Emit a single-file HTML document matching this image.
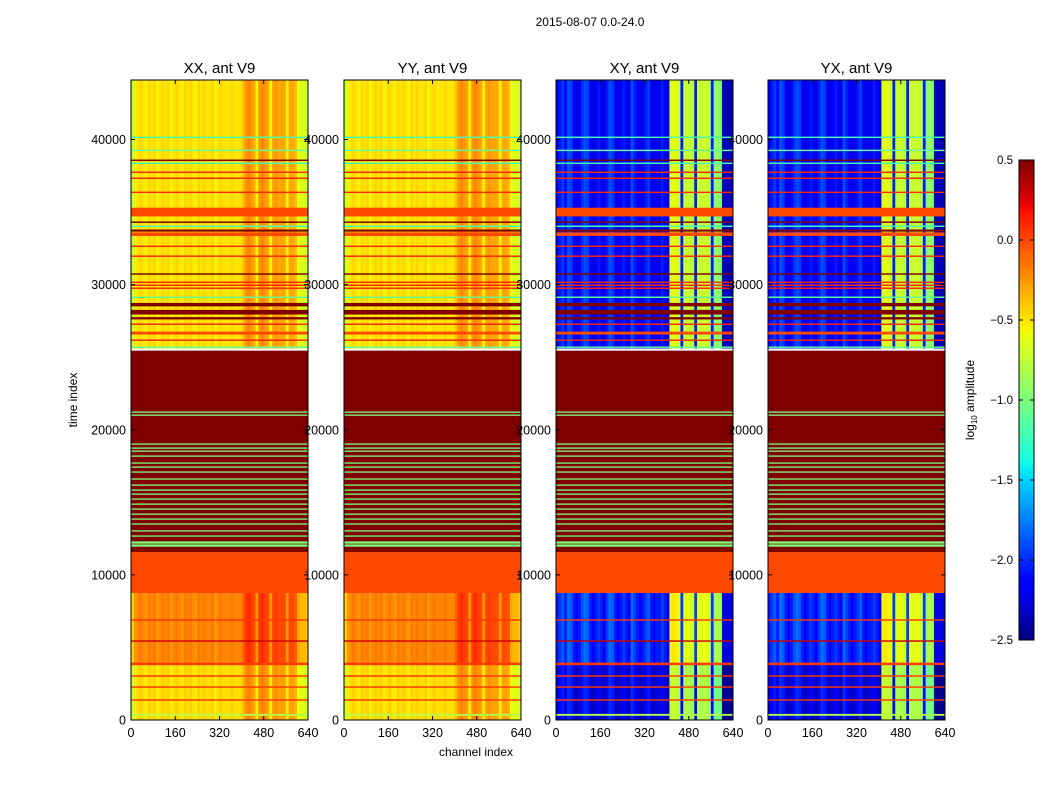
<!DOCTYPE html>
<html><head><meta charset="utf-8"><style>
body{margin:0;background:#fff;width:1050px;height:800px;overflow:hidden}
svg text{font-family:"Liberation Sans","DejaVu Sans",sans-serif}
</style></head><body>
<svg id="fig" width="1050" height="800" xmlns="http://www.w3.org/2000/svg">
<text x="590" y="26" font-size="12" text-anchor="middle">2015-08-07 0.0-24.0</text>
<text x="476" y="756" font-size="12" text-anchor="middle">channel index</text>
<text x="77" y="400" font-size="12" text-anchor="middle" transform="rotate(-90 77 400)">time index</text>
<g id="panels"></g>
<g id="cbar"></g>
</svg>
<script>
// ---- data ----
const panelTitles = ["XX, ant V9","YY, ant V9","XY, ant V9","YX, ant V9"];
const panelKinds = ["par","par","cross","cross"];
const xTicks = [0,160,320,480,640];
const yTicks = [0,10000,20000,30000,40000];
const cbTicks = [0.5,0.0,-0.5,-1.0,-1.5,-2.0,-2.5];
const cbLabels = ["0.5","0.0","\u22120.5","\u22121.0","\u22121.5","\u22122.0","\u22122.5"];
// channel profiles, 64 bins of 10 channels
const parProfile = [-0.75,-0.55,-0.5,-0.45,-0.5,-0.55,-0.45,-0.5,-0.45,-0.55,-0.5,-0.45,-0.5,-0.45,-0.55,-0.5,-0.45,-0.5,-0.55,-0.45,-0.5,-0.45,-0.5,-0.55,-0.45,-0.5,-0.45,-0.5,-0.5,-0.45,-0.55,-0.5,-0.45,-0.5,-0.5,-0.5,-0.45,-0.5,-0.5,-0.5,
  -0.4,-0.25,-0.2,-0.25,-0.3,-0.55,-0.25,-0.2,-0.25,-0.3,-0.55,-0.3,-0.25,-0.3,-0.3,-0.3,-0.55,-0.3,-0.3,-0.35,-0.6,-0.65,-0.65,-0.7];
const crossProfile = [-2.2,-2.1,-2.0,-2.2,-1.95,-2.0,-2.2,-2.3,-2.2,-2.05,-1.95,-2.0,-2.2,-2.3,-2.2,-2.1,-2.2,-2.3,-2.1,-1.95,-2.0,-2.2,-2.3,-2.2,-2.1,-2.2,-2.3,-1.95,-2.1,-2.2,-2.3,-2.2,-2.1,-2.0,-2.2,-2.3,-2.2,-2.2,-2.1,-2.2,
  -2.3,-0.7,-0.65,-0.7,-0.75,-2.1,-0.8,-0.75,-0.8,-0.85,-2.1,-0.75,-0.8,-0.75,-0.75,-0.85,-2.1,-1.0,-0.95,-1.05,-2.4,-2.4,-2.4,-2.4];
// time segments with data
const segStart = [25600, 3800, 0];
const segEnd   = [44100, 8750, 3800];
const segParOff = [0, 0.3, 0.02];
const segCrossOff = [0.05, 0.15, -0.05];
// flagged rows overlay: start, end, value
const flagStart = [8750,11570,
  11940,12150,12010,12220,12630,12980,13460,13800,14140,14490,14830,15180,15520,15800,16140,16560,17040,17380,17660,18140,18480,18690,18970,20960,21170,
  40100,39200,38310,38520,37690,37280,36310,34700,34250,33970,33650,33350,32590,31910,30680,30110,29910,29700,29080,28500,27940,27600,27220,26560,26120,25640,
  6840,5390,3780,2980,2220,1330,290];
const flagEnd   = [11570,25450,
  12030,12240,12100,12310,12720,13070,13550,13890,14230,14580,14920,15270,15610,15890,16230,16650,17130,17470,17750,18230,18570,18780,19060,21050,21260,
  40200,39300,38410,38620,37790,37380,36410,35300,34350,34070,33800,33600,32690,32010,30780,30210,30010,29800,29180,28740,28260,27760,27320,26760,26220,25740,
  6940,5490,3950,3080,2320,1430,420];
const flagVal   = [0.0,0.5,
  -1.0,-1.0,-1.0,-1.0,-1.0,-1.0,-1.0,-1.0,-1.0,-1.0,-1.0,-1.0,-1.0,-1.0,-1.0,-1.0,-1.0,-1.0,-1.0,-1.0,-1.0,-1.0,-1.0,-1.0,-1.0,
  -1.2,-1.1,-1.2,0.5,0.1,0.1,0.1,0.0,0.5,-1.2,0.5,0.0,0.1,0.1,0.5,0.1,0.1,0.1,-1.1,0.5,0.5,0.5,0.1,0.0,0.1,-1.1,
  0.05,0.3,0.05,0.05,0.05,0.05,-0.8];

// ---- drawing ----
const NS="http://www.w3.org/2000/svg";
const vmin=-2.5, vmax=0.5;
function interp(pts,x){for(let i=1;i<pts.length;i++){if(x<=pts[i][0]){const a=pts[i-1],b=pts[i];return a[1]+(b[1]-a[1])*(x-a[0])/(b[0]-a[0]);}}return pts[pts.length-1][1];}
const R=[[0,0],[0.35,0],[0.66,1],[0.89,1],[1,0.5]], G=[[0,0],[0.125,0],[0.375,1],[0.64,1],[0.91,0],[1,0]], B=[[0,0.5],[0.11,1],[0.34,1],[0.65,0],[1,0]];
function jet(v){let x=(v-vmin)/(vmax-vmin);x=Math.max(0,Math.min(1,x));return `rgb(${Math.round(255*interp(R,x))},${Math.round(255*interp(G,x))},${Math.round(255*interp(B,x))})`;}
function mk(tag,attrs,parent){const e=document.createElementNS(NS,tag);for(const k in attrs)e.setAttribute(k,attrs[k]);parent.appendChild(e);return e;}

const panelLeft=[131,344,556,768], pw=177, yTop=80, yBottom=720, tMax=44100, chMax=640;
const yScale=t=>yBottom-(t/tMax)*(yBottom-yTop);
const g=document.getElementById('panels');
panelTitles.forEach((title,p)=>{
  const x0=panelLeft[p], xs=c=>x0+c/chMax*pw;
  const pg=mk('g',{},g);
  
  
  const prof=panelKinds[p]==='par'?parProfile:crossProfile;
  const offs=panelKinds[p]==='par'?segParOff:segCrossOff;
  segStart.forEach((s,si)=>{
    prof.forEach((v,bi)=>{
      const r=mk('rect',{x:xs(bi*10),y:yScale(segEnd[si]),width:xs(bi*10+10)-xs(bi*10)+0.3,height:yScale(s)-yScale(segEnd[si]),fill:jet(v+offs[si])},pg);
      
      
    });
  });
  flagStart.forEach((s,fi)=>{
    const h=Math.max(1.3,yScale(s)-yScale(flagEnd[fi]));
    const r=mk('rect',{x:x0,y:yScale(flagEnd[fi]),width:pw,height:h,fill:jet(flagVal[fi])},pg);
    
    
  });
  const fr=mk('rect',{x:x0,y:yTop,width:pw,height:yBottom-yTop,fill:'none',stroke:'#000','stroke-width':1},pg);
  
  
  const tt=mk('text',{x:x0+pw/2,y:73,'font-size':15,'text-anchor':'middle'},pg);tt.textContent=title;
  
  
  xTicks.forEach(c=>{
    const x=xs(c);
    mk('line',{x1:x,x2:x,y1:yBottom,y2:yBottom-4,stroke:'#000'},pg);
    mk('line',{x1:x,x2:x,y1:yTop,y2:yTop+4,stroke:'#000'},pg);
    const l=mk('text',{x:x,y:yBottom+17,'font-size':12.5,'text-anchor':'middle'},pg);l.textContent=c;
    
    
  });
  yTicks.forEach(t=>{
    const y=yScale(t);
    mk('line',{x1:x0,x2:x0+4,y1:y,y2:y,stroke:'#000'},pg);
    mk('line',{x1:x0+pw,x2:x0+pw-4,y1:y,y2:y,stroke:'#000'},pg);
    const l=mk('text',{x:x0-5,y:y+4.5,'font-size':12.5,'text-anchor':'end'},pg);l.textContent=t;
    
    
  });
});
// colorbar
const cb=document.getElementById('cbar');
const cbx=1019, cbw=15, cbt=160, cbb=640;
const cbY=v=>cbb-(v-vmin)/(vmax-vmin)*(cbb-cbt);
for(let i=0;i<240;i++){
  const v=vmin+(i+0.5)/240*(vmax-vmin);
  mk('rect',{x:cbx,y:cbY(vmin+(i+1)/240*(vmax-vmin)),width:cbw,height:(cbb-cbt)/240+0.4,fill:jet(v)},cb);
}
mk('rect',{x:cbx,y:cbt,width:cbw,height:cbb-cbt,fill:'none',stroke:'#000'},cb);
cbTicks.forEach((v,i)=>{
  const y=cbY(v);
  mk('line',{x1:cbx,x2:cbx+4,y1:y,y2:y,stroke:'#000'},cb);
  mk('line',{x1:cbx+cbw,x2:cbx+cbw-4,y1:y,y2:y,stroke:'#000'},cb);
  const l=mk('text',{x:1013,y:y+4,'font-size':11.5,'text-anchor':'end'},cb);l.textContent=cbLabels[i];
  
  
});
const cl=mk('text',{x:974,y:400,'font-size':12,'text-anchor':'middle',transform:'rotate(-90 974 400)'},cb);
cl.innerHTML='log<tspan font-size="8" dy="3">10</tspan><tspan dy="-3"> amplitude</tspan>';


</script>
</body></html>
